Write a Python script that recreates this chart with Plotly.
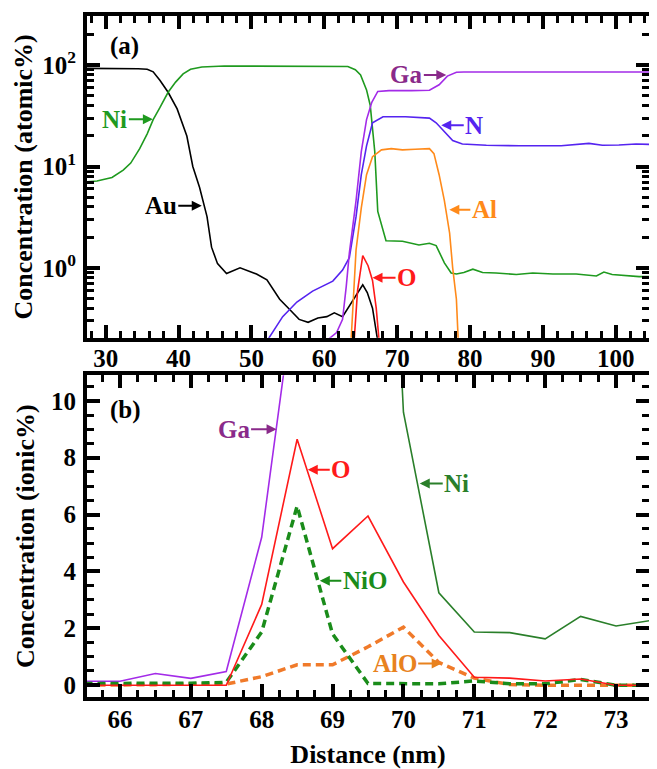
import plotly.graph_objects as go

# ---------------- Panel (a): atomic% (log scale) ----------------
au_x = [27.0, 28.81, 31.89, 34.46, 35.70, 36.52, 37.44, 38.57, 39.81, 41.14, 41.96, 42.89, 43.91,
        44.53, 45.35, 46.59, 48.44, 50.70, 52.13, 53.88, 55.22, 56.55, 57.78, 59.12, 60.35, 61.38,
        62.51, 63.85, 65.28, 65.90, 66.62, 67.44]
au_y = [93, 93, 92.5, 92, 91, 86, 71, 54, 37, 20, 10, 6.2, 3.2, 1.6, 1.1, 0.88,
        1.0, 0.87, 0.76, 0.49, 0.39, 0.31, 0.29, 0.32, 0.33, 0.36, 0.33, 0.47, 0.68, 0.57, 0.40, 0.17]

ni_x = [27.0, 28.81, 30.87, 32.41, 33.44, 34.67, 35.70, 36.52, 37.44, 38.57, 39.60, 40.63, 41.65,
        43.20, 46.28, 54.50, 63.23, 64.26, 64.98, 65.80, 66.31, 66.93, 67.34, 68.47, 70.73, 72.99,
        74.43, 75.35, 76.48, 77.41, 78.13, 79.15, 80.39, 81.72, 83.57, 86.35, 88.61, 91.38, 94.57,
        97.34, 98.37, 99.50, 103.20, 105.04]
ni_y = [7.0, 7.2, 7.8, 9.2, 10.8, 15, 21, 29, 38, 54, 68, 82, 91, 96, 98, 98, 97,
        90, 80, 57, 40, 14, 3.6, 1.85, 1.83, 1.68, 1.75, 1.66, 1.12, 0.89, 0.87, 0.90, 0.97,
        0.90, 0.89, 0.86, 0.89, 0.87, 0.87, 0.83, 0.91, 0.86, 0.82, 0.82]

ga_x = [59.12, 60.66, 61.69, 62.51, 63.02, 63.44, 64.36, 65.08, 65.80, 66.52, 67.34, 68.88, 71.96,
        74.43, 75.76, 76.89, 78.13, 79.15, 85.32, 95.59, 105.04]
ga_y = [0.17, 0.20, 0.23, 0.31, 0.66, 1.4, 4.6, 14, 29, 43, 55, 56, 56, 56.5, 64, 78,
        85, 85.5, 85.5, 85.5, 85.5]

n_x = [51.93, 54.29, 56.24, 58.40, 61.17, 62.51, 63.44, 64.36, 65.08, 65.80, 66.62, 68.06, 71.14,
       74.43, 75.35, 76.48, 77.62, 78.95, 82.24, 86.76, 92.51, 96.32, 98.17, 100.43, 102.79, 105.04]
n_y = [0.18, 0.33, 0.46, 0.59, 0.74, 0.95, 1.26, 3.2, 8.3, 16, 27, 31, 31, 30, 27,
       22, 18, 16.7, 16.2, 16.0, 16.0, 16.9, 16.2, 16.3, 16.7, 16.5]

al_x = [63.64, 63.95, 64.36, 65.08, 65.80, 66.62, 67.85, 69.19, 70.73, 72.47, 74.43, 75.05, 75.76,
        76.48, 77.20, 77.62, 78.13, 78.43]
al_y = [0.17, 0.49, 1.5, 3.9, 8.3, 12.5, 14.6, 15, 14.6, 14.8, 15, 13.4, 8.3, 4.6, 2.2,
        1.0, 0.49, 0.16]

o_x = [64.05, 64.57, 65.28, 66.01, 66.62, 67.13, 67.65]
o_y = [0.17, 0.60, 1.32, 1.05, 0.75, 0.40, 0.15]

top_xticks = [30, 40, 50, 60, 70, 80, 90, 100]
top_yticks = [1, 10, 100]
top_yticktext = ["10<sup>0</sup>", "10<sup>1</sup>", "10<sup>2</sup>"]

# ---------------- Panel (b): ionic% ----------------
dist = [65.5, 66, 66.5, 67, 67.5, 68, 68.5, 69, 69.5, 70, 70.5, 71, 71.5, 72, 72.5, 73, 73.5]
ga_b = [0.14, 0.14, 0.41, 0.24, 0.48, 5.2, 14.5]
o_b = [0.0, 0.0, 0.0, 0.0, 0.0, 2.84, 8.65, 4.8, 5.95, 3.63, 1.75, 0.28, 0.25, 0.15, 0.22, 0.0, 0.0]
nio_b = [0.06, 0.06, 0.06, 0.07, 0.1, 1.87, 6.3, 1.8, 0.06, 0.05, 0.05, 0.15, 0.05, 0.05, 0.2, 0.0, 0.0]
alo_b = [0.0, 0.0, 0.02, 0.04, 0.04, 0.3, 0.72, 0.72, 1.35, 2.04, 0.8, 0.25, 0.02, 0.0, 0.0, 0.0, 0.0]
ni_b_x = [69.5, 70, 70.5, 71, 71.5, 72, 72.5, 73, 73.5]
ni_b = [35, 9.6, 3.25, 1.87, 1.85, 1.63, 2.42, 2.08, 2.28]

bot_xticks = [66, 67, 68, 69, 70, 71, 72, 73]
bot_yticks = [0, 2, 4, 6, 8, 10]

FONT = "Liberation Serif"
C_AU, C_NI, C_GA, C_GA_T, C_N, C_AL, C_O = "#000000", "#1f9a1f", "#a32be8", "#8a2a8a", "#5524f0", "#ff8a1a", "#ff1a1a"
C_NI_B, C_NIO, C_ALO, C_ALO_T = "#2a7f2a", "#1a8c1a", "#f07a2a", "#e8821e"

fig = go.Figure()

def line(x, y, color, ax, width=1.6, dash=None):
    fig.add_trace(go.Scatter(x=x, y=y, mode="lines", xaxis=ax[0], yaxis=ax[1], showlegend=False,
                             line=dict(color=color, width=width, dash=dash), hoverinfo="skip"))

line(au_x, au_y, C_AU, ("x", "y"))
line(ni_x, ni_y, C_NI, ("x", "y"))
line(al_x, al_y, C_AL, ("x", "y"))
line(n_x, n_y, C_N, ("x", "y"))
line(ga_x, ga_y, C_GA, ("x", "y"))
line(o_x, o_y, C_O, ("x", "y"))

line(dist[:len(ga_b)], ga_b, C_GA, ("x2", "y2"))
line(ni_b_x, ni_b, C_NI_B, ("x2", "y2"))
line(dist, alo_b, C_ALO, ("x2", "y2"), width=3.5, dash="8px,5px")
line(dist, nio_b, C_NIO, ("x2", "y2"), width=3.5, dash="8px,5px")
line(dist, o_b, C_O, ("x2", "y2"))

tickfont = dict(family=FONT, size=25, color="black", weight="bold")
titlefont = dict(family=FONT, size=26, color="black", weight="bold")

def axis_common():
    return dict(showline=True, linewidth=4, linecolor="black", mirror="ticks",
                ticks="inside", ticklen=13, tickwidth=4, tickcolor="black",
                showgrid=False, zeroline=False, tickfont=tickfont)

log_minor = [v * m for m in (0.1, 1, 10, 100) for v in range(2, 10)]
log_minor = [v for v in log_minor if 0.2 <= v <= 300]

xa = axis_common(); xa.update(domain=[0, 1], anchor="y", range=[27.44, 104.56], tickvals=top_xticks,
                              ticklabelstandoff=-5,
                              minor=dict(dtick=2, tick0=0, ticks="inside", ticklen=7, tickwidth=3, tickcolor="black"))
ya = axis_common(); ya.update(domain=[0.5275, 1], anchor="x", type="log", range=[-0.69, 2.485],
                              tickvals=top_yticks, ticktext=top_yticktext, ticklabelstandoff=2,
                              title=dict(text="Concentration (atomic%)", font=titlefont, standoff=3),
                              minor=dict(tickmode="array", tickvals=log_minor, ticks="inside", ticklen=7,
                                         tickwidth=3, tickcolor="black"))
xb = axis_common(); xb.update(domain=[0, 1], anchor="y2", range=[65.535, 73.465], tickvals=bot_xticks,
                              ticklabelstandoff=-3,
                              title=dict(text="Distance (nm)", font=titlefont, standoff=14),
                              minor=dict(dtick=0.25, tick0=0, ticks="inside", ticklen=7, tickwidth=3, tickcolor="black"))
yb = axis_common(); yb.update(domain=[0, 0.4725], anchor="x2", range=[-0.415, 10.9], tickvals=bot_yticks,
                              ticklabelstandoff=2,
                              title=dict(text="Concentration (ionic%)", font=titlefont, standoff=10),
                              minor=dict(dtick=0.5, tick0=0, ticks="inside", ticklen=7, tickwidth=3, tickcolor="black"))

lab = dict(family=FONT, size=25, weight="bold")
ann = []

def tag(text, x, y, color, xref, yref):
    ann.append(dict(text=text, x=x, y=y, xref=xref, yref=yref, showarrow=False, xanchor="left",
                    yanchor="middle", font=dict(lab, color="black")))

def label(text, x, y, color, xref, yref, dx):
    ann.append(dict(text=text, x=x, y=y, xref=xref, yref=yref, showarrow=True, ax=dx, ay=0,
                    arrowhead=2, arrowsize=1, arrowwidth=2, arrowcolor=color, standoff=0,
                    font=dict(lab, color=color)))

# panel (a) labels (y given as log10 for the log axis)
tag("(a)", 30.33, 2.19, "black", "x", "y")
label("Ni", 36.48, 1.466, C_NI, "x", "y", -38)
label("Au", 43.19, 0.612, "black", "x", "y", -41)
label("Ga", 76.75, 1.903, C_GA_T, "x", "y", -40)
label("N", 76.05, 1.408, C_N, "x", "y", 33)
label("Al", 77.16, 0.573, C_AL, "x", "y", 35)
label("O", 66.62, -0.097, C_O, "x", "y", 34)
# panel (b) labels
tag("(b)", 65.83, 9.69, "black", "x2", "y2")
label("Ga", 68.21, 9.0, C_GA_T, "x2", "y2", -43)
label("O", 68.65, 7.58, C_O, "x2", "y2", 33)
label("NiO", 68.82, 3.67, C_NIO, "x2", "y2", 45)
label("Ni", 70.23, 7.09, C_NI_B, "x2", "y2", 37)
label("AlO", 70.54, 0.76, C_ALO_T, "x2", "y2", -47)

fig.update_layout(width=649, height=761, margin=dict(l=79, r=7, t=4, b=65),
                  paper_bgcolor="white", plot_bgcolor="white", showlegend=False,
                  font=dict(family=FONT, color="black"),
                  xaxis=xa, yaxis=ya, xaxis2=xb, yaxis2=yb, annotations=ann)

fig.write_html("out.html")
